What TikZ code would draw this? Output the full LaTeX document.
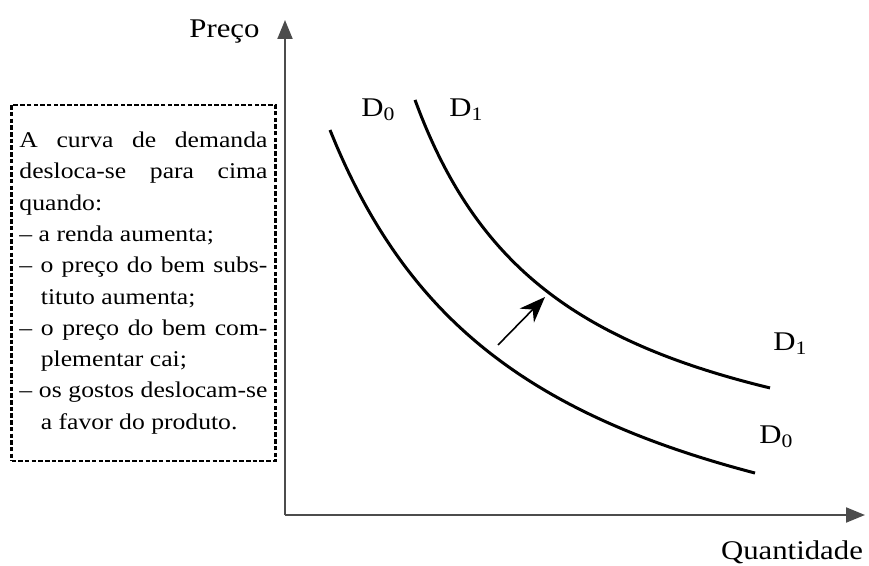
\documentclass[tikz,border=0pt]{standalone}
\usepackage{fontspec}
\setmainfont[FakeStretch=1.14]{Liberation Serif}
\usetikzlibrary{arrows.meta}
\newcommand{\traco}{\par\hangindent=0.95em\hangafter=1 --~}
\newcommand{\dsub}[1]{D\raisebox{-0.32ex}{\fontsize{19}{19}\selectfont #1}}
\tikzset{
    eixo/.style={line width=2pt,black!70,-{Triangle[length=19pt,width=15pt]}},
    curva/.style={line width=3pt},
    rotulo/.style={font=\fontsize{27}{30}\selectfont},
    caixa/.style={draw,line width=2.6pt,dash pattern=on 4.5pt off 2.2pt,text width=248pt,
        inner xsep=8pt,inner ysep=27pt,align=justify,font=\fontsize{22.5}{31.3}\selectfont}
}
\begin{document}
\begin{tikzpicture}[x=1pt,y=1pt]
    \useasboundingbox (0,0) rectangle (869,565);
    \coordinate (o) at (285,50);
    \coordinate (ytip) at (285,545);
    \coordinate (xtip) at (865,50);
    \draw[eixo] (o) -- (ytip);
    \draw[eixo] (o) -- (xtip);
    \node[rotulo,left] (preco) at (263,533) {Preço};
    \node[rotulo] (quant) at (792,13) {Quantidade};

    % curvas de demanda
    \draw[curva] plot[smooth,domain=330:755,samples=60] (\x,{50-123+(1038.29/(\x-125.6))*100});
    \draw[curva] plot[smooth,domain=415:770,samples=60] (\x,{50+4.4+(620.9/(\x-263.8))*100});
    \node[rotulo] (d0a) at (378,455) {\dsub{0}};
    \node[rotulo] (d1a) at (466,455) {\dsub{1}};
    \node[rotulo] (d1b) at (790,221) {\dsub{1}};
    \node[rotulo] (d0b) at (776,128) {\dsub{0}};

    \coordinate (a) at (498,220);
    \coordinate (b) at (545,268);
    \draw[line width=1.6pt,-{Stealth[length=26pt,width=20pt]}] (a) -- (b);

    \node[caixa] (txt) at (143.5,282) {\setlength\parindent{0pt}%
        A curva de demanda\linebreak desloca-se para cima\linebreak quando:
        \traco a renda aumenta;
        \traco o preço do bem subs-\linebreak tituto aumenta;
        \traco o preço do bem com-\linebreak plementar cai;
        \traco os gostos deslocam-se\linebreak a favor do produto.\par};
\end{tikzpicture}
\end{document}
